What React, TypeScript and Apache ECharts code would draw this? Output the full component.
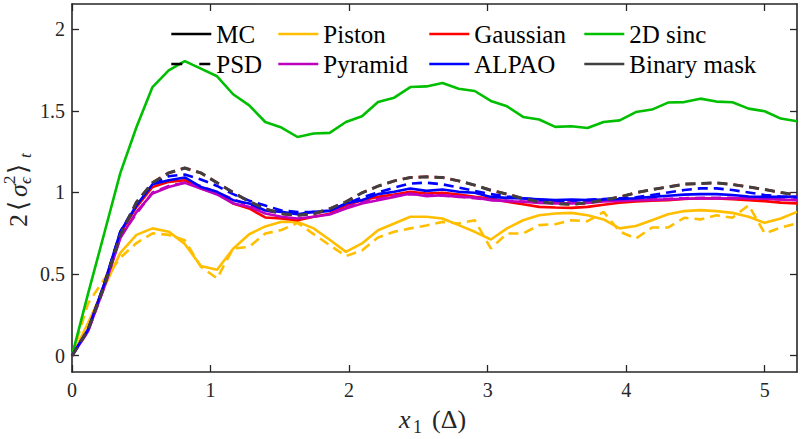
import React, { useEffect, useRef } from "react";
import * as echarts from "echarts";

// x positions (units of Δ)
const xs = [
  0, 0.116, 0.233, 0.349, 0.465, 0.581, 0.698, 0.814, 0.93, 1.047, 1.163, 1.279,
  1.395, 1.512, 1.628, 1.744, 1.86, 1.977, 2.093, 2.209, 2.326, 2.442, 2.558,
  2.674, 2.791, 2.907, 3.023, 3.14, 3.256, 3.372, 3.488, 3.605, 3.721, 3.837,
  3.953, 4.07, 4.186, 4.302, 4.419, 4.535, 4.651, 4.767, 4.884, 5.0, 5.116, 5.233,
];
const xTicks = [0, 1, 2, 3, 4, 5];
const yTicks = [0, 0.5, 1, 1.5, 2];

const pistonMC = [
  0, 0.2, 0.42, 0.63, 0.74, 0.78, 0.76, 0.685, 0.55, 0.527, 0.655, 0.744, 0.792,
  0.82, 0.82, 0.78, 0.71, 0.636, 0.688, 0.769, 0.81, 0.851, 0.851, 0.841, 0.8,
  0.759, 0.712, 0.78, 0.83, 0.861, 0.871, 0.875, 0.861, 0.835, 0.78, 0.795, 0.83,
  0.867, 0.886, 0.892, 0.886, 0.875, 0.851, 0.814, 0.841, 0.881,
];
const pistonPSD = [
  0, 0.32, 0.47, 0.6, 0.69, 0.75, 0.74, 0.708, 0.545, 0.474, 0.657, 0.667, 0.749,
  0.77, 0.814, 0.745, 0.677, 0.61, 0.645, 0.724, 0.759, 0.78, 0.798, 0.82, 0.81,
  0.83, 0.657, 0.749, 0.749, 0.8, 0.806, 0.83, 0.824, 0.881, 0.76, 0.718, 0.785,
  0.785, 0.845, 0.835, 0.86, 0.845, 0.922, 0.749, 0.785, 0.81,
];
const gaussianMC = [
  0, 0.16, 0.44, 0.75, 0.91, 1.034, 1.065, 1.075, 1.024, 0.994, 0.933, 0.902,
  0.847, 0.841, 0.83, 0.851, 0.87, 0.92, 0.953, 0.973, 0.988, 1.004, 0.994, 0.998,
  0.988, 0.973, 0.963, 0.943, 0.928, 0.912, 0.908, 0.906, 0.912, 0.925, 0.937,
  0.945, 0.95, 0.953, 0.96, 0.965, 0.963, 0.959, 0.953, 0.947, 0.938, 0.933,
];
const gaussianPSD = [
  0, 0.16, 0.43, 0.74, 0.94, 1.06, 1.12, 1.15, 1.12, 1.06, 1.0, 0.945, 0.9, 0.87,
  0.86, 0.87, 0.9, 0.943, 0.998, 1.039, 1.071, 1.092, 1.096, 1.092, 1.071, 1.045,
  1.014, 0.99, 0.963, 0.943, 0.933, 0.928, 0.936, 0.953, 0.973, 0.998, 1.018,
  1.034, 1.051, 1.055, 1.059, 1.049, 1.034, 1.018, 1.0, 0.984,
];
const sincMC = [
  0, 0.38, 0.75, 1.12, 1.4, 1.646, 1.748, 1.805, 1.759, 1.712, 1.602, 1.534, 1.432,
  1.398, 1.34, 1.361, 1.365, 1.432, 1.467, 1.554, 1.581, 1.646, 1.65, 1.671, 1.636,
  1.622, 1.561, 1.528, 1.463, 1.447, 1.402, 1.406, 1.395, 1.432, 1.442, 1.493,
  1.508, 1.551, 1.554, 1.575, 1.557, 1.553, 1.514, 1.498, 1.453, 1.436,
];
const pyramidMC = [
  0, 0.15, 0.42, 0.72, 0.88, 0.994, 1.034, 1.059, 1.024, 0.988, 0.933, 0.912,
  0.871, 0.851, 0.841, 0.851, 0.865, 0.902, 0.933, 0.953, 0.973, 0.994, 0.977,
  0.984, 0.973, 0.969, 0.953, 0.947, 0.943, 0.936, 0.933, 0.933, 0.936, 0.945,
  0.948, 0.952, 0.955, 0.958, 0.962, 0.963, 0.963, 0.965, 0.965, 0.962, 0.957, 0.953,
];
const pyramidPSD = [
  0, 0.15, 0.42, 0.73, 0.87, 1.0, 1.04, 1.06, 1.04, 1.0, 0.96, 0.92, 0.89, 0.87,
  0.86, 0.87, 0.89, 0.91, 0.94, 0.96, 0.98, 0.99, 0.985, 0.98, 0.975, 0.965, 0.955,
  0.95, 0.945, 0.94, 0.94, 0.94, 0.945, 0.955, 0.955, 0.96, 0.96, 0.962, 0.965,
  0.967, 0.967, 0.967, 0.965, 0.962, 0.958, 0.955,
];
const alpaoMC = [
  0, 0.16, 0.44, 0.76, 0.92, 1.05, 1.075, 1.092, 1.034, 1.004, 0.953, 0.933, 0.89,
  0.881, 0.867, 0.881, 0.887, 0.933, 0.953, 0.99, 1.004, 1.024, 1.01, 1.018, 1.004,
  0.998, 0.973, 0.967, 0.963, 0.959, 0.953, 0.957, 0.953, 0.957, 0.96, 0.965,
  0.973, 0.98, 0.987, 0.99, 0.99, 0.985, 0.975, 0.973, 0.973, 0.975,
];
const alpaoPSD = [
  0, 0.16, 0.44, 0.76, 0.93, 1.05, 1.1, 1.11, 1.08, 1.04, 0.99, 0.95, 0.92, 0.89,
  0.88, 0.88, 0.89, 0.93, 0.97, 1.0, 1.03, 1.055, 1.06, 1.05, 1.03, 1.01, 0.99,
  0.975, 0.965, 0.955, 0.95, 0.95, 0.955, 0.96, 0.965, 0.97, 0.985, 1.0, 1.015,
  1.025, 1.025, 1.015, 1.0, 0.985, 0.975, 0.97,
];
const binaryPSD = [
  0, 0.16, 0.43, 0.74, 0.94, 1.06, 1.12, 1.15, 1.12, 1.06, 1.0, 0.945, 0.9, 0.87,
  0.86, 0.87, 0.9, 0.943, 0.998, 1.039, 1.071, 1.092, 1.096, 1.092, 1.071, 1.045,
  1.014, 0.99, 0.963, 0.943, 0.933, 0.928, 0.936, 0.953, 0.973, 0.998, 1.018,
  1.034, 1.051, 1.055, 1.059, 1.049, 1.034, 1.018, 1.0, 0.984,
];

const FONT = "'Liberation Serif', 'DejaVu Serif', serif";
const AXIS = "#262626";
const DASH = [10, 6];

const COL = {
  piston: "#FFBF00",
  gaussian: "#FF0000",
  sinc: "#00BF00",
  pyramid: "#BF00BF",
  alpao: "#0000FF",
  binary: "#404040",
};

function pairs(ys: number[]) {
  return xs.map((x, i) => [x, ys[i]]);
}

function line(name: string, ys: number[] | null, color: string, dashed: boolean, width = 2.6) {
  return {
    type: "line",
    name,
    data: ys ? pairs(ys) : [],
    symbol: "none",
    showSymbol: false,
    silent: true,
    color,
    itemStyle: { color },
    lineStyle: { color, width, type: dashed ? DASH : "solid" },
  };
}

export default function App() {
  const ref = useRef<HTMLDivElement>(null);
  useEffect(() => {
    if (!ref.current) return;
    const chart = echarts.init(ref.current, undefined, { renderer: "svg" });
    const legendText = { fontFamily: FONT, fontSize: 25, color: "#000", lineHeight: 26 };
    const legendBase = {
      orient: "vertical",
      top: 21,
      padding: 0,
      itemWidth: 40,
      itemHeight: 14,
      itemGap: 4,
      selectedMode: false,
      textStyle: legendText,
      lineStyle: { width: 2.6 },
      itemStyle: { opacity: 0, borderWidth: 0 },
    };
    const tickStyle = { color: AXIS, width: 1.3 };
    const axisLineStyle = { color: AXIS, width: 1.6 };
    const labelStyle = { fontFamily: FONT, fontSize: 20, color: AXIS };

    const psdDummy: any = line("PSD", null, "#000", false, 2.6);
    psdDummy.lineStyle.type = [11, 17];

    const txt = (x: number, y: number, text: string, font: string) => ({
      type: "text",
      x,
      y,
      style: { text, font, fill: AXIS, align: "left", verticalAlign: "middle" },
    });

    const option: any = {
      animation: false,
      backgroundColor: "#fff",
      grid: { left: 72, right: 7, top: 4, bottom: 67, containLabel: false, outerBoundsMode: "none" },
      xAxis: [
        {
          type: "value",
          min: 0,
          max: 5.233,
          axisLine: { onZero: false, lineStyle: axisLineStyle },
          axisTick: { inside: true, length: 7, customValues: xTicks, lineStyle: tickStyle },
          axisLabel: { ...labelStyle, margin: 8, customValues: xTicks, formatter: (v: number) => String(v) },
          splitLine: { show: false },
        },
        {
          type: "value",
          position: "top",
          min: 0,
          max: 5.233,
          axisLine: { onZero: false, lineStyle: axisLineStyle },
          axisTick: { inside: true, length: 7, customValues: xTicks, lineStyle: tickStyle },
          axisLabel: { show: false },
          splitLine: { show: false },
        },
      ],
      yAxis: [
        {
          type: "value",
          min: -0.1,
          max: 2.155,
          axisLine: { onZero: false, lineStyle: axisLineStyle },
          axisTick: { inside: true, length: 7, customValues: yTicks, lineStyle: tickStyle },
          axisLabel: { ...labelStyle, margin: 7, customValues: yTicks, formatter: (v: number) => String(v) },
          splitLine: { show: false },
        },
        {
          type: "value",
          position: "right",
          min: -0.1,
          max: 2.155,
          axisLine: { onZero: false, lineStyle: axisLineStyle },
          axisTick: { inside: true, length: 7, customValues: yTicks, lineStyle: tickStyle },
          axisLabel: { show: false },
          splitLine: { show: false },
        },
      ],
      legend: [
        { ...legendBase, left: 170, data: ["MC", "PSD"] },
        { ...legendBase, left: 277, data: ["Piston", "Pyramid"] },
        { ...legendBase, left: 428, data: ["Gaussian", "ALPAO"] },
        { ...legendBase, left: 583, data: ["2D sinc", "Binary mask"] },
      ],
      series: [
        line("MC", null, "#000", false),
        psdDummy,
        line("Binary mask", null, COL.binary, false),
        line("Piston", pistonMC, COL.piston, false),
        line("Piston", pistonPSD, COL.piston, true),
        line("Gaussian", gaussianMC, COL.gaussian, false),
        line("Gaussian", gaussianPSD, COL.gaussian, true),
        line("2D sinc", sincMC, COL.sinc, false),
        line("Pyramid", pyramidMC, COL.pyramid, false),
        line("Pyramid", pyramidPSD, COL.pyramid, true),
        line("ALPAO", alpaoMC, COL.alpao, false),
        line("ALPAO", alpaoPSD, COL.alpao, true),
        line("Binary mask", binaryPSD, COL.binary, true, 3),
      ],
      graphic: [
        txt(399, 419.5, "x", `italic 26px ${FONT}`),
        txt(413, 426.5, "1", `18px ${FONT}`),
        txt(432, 419.5, "(Δ)", `26px ${FONT}`),
        {
          type: "group",
          x: 27,
          y: 227,
          rotation: Math.PI / 2,
          silent: true,
          children: [
            txt(0, -8.8, "2", `26px ${FONT}`),
            txt(16, -8.8, "⟨", `26px 'DejaVu Serif', 'DejaVu Sans', serif`),
            txt(30, -8.8, "σ", `italic 26px ${FONT}`),
            txt(43, -18, "2", `17px ${FONT}`),
            txt(43, -2, "ϵ", `italic 17px ${FONT}`),
            txt(53, -8.8, "⟩", `26px 'DejaVu Serif', 'DejaVu Sans', serif`),
            txt(69, -2, "t", `italic 17px ${FONT}`),
          ],
        },
      ],
    };
    chart.setOption(option);
    return () => chart.dispose();
  }, []);
  return (
    <div
      ref={ref}
      style={{ position: "absolute", left: 0, top: 0, width: 804, height: 439, background: "#fff" }}
    />
  );
}
